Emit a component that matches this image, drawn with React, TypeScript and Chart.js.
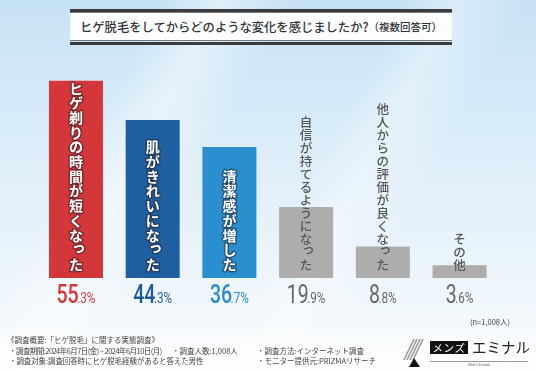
import React, { useEffect, useRef } from "react";
import { Chart, registerables } from "chart.js";

Chart.register(...registerables);

const categories = [
  "ヒゲ剃りの時間が短くなった",
  "肌がきれいになった",
  "清潔感が増した",
  "自信が持てるようになった",
  "他人からの評価が良くなった",
  "その他",
];
const values = [55.3, 44.3, 36.7, 19.9, 8.8, 3.6];
const barColors = ["#d4373a", "#1f5f9f", "#2a8ecf", "#adadad", "#adadad", "#adadad"];
const valueColors = ["#d2363a", "#1f5a97", "#2b8ccc", "#666666", "#666666", "#666666"];
const yMax = 60;

const titleMain = "ヒゲ脱毛をしてからどのような変化を感じましたか?";
const titleSub = "（複数回答可）";
const sampleNote = "(n=1,008人)";
const footerLines = [
  "《調査概要:「ヒゲ脱毛」に関する実態調査》",
];
const footerCols = [
  ["・調査期間:2024年6月7日(金) ~ 2024年6月10日(月)", "・調査人数:1,008人", "・調査方法:インターネット調査"],
  ["・調査対象:調査回答時にヒゲ脱毛経験があると答えた男性", "", "・モニター提供元:PRIZMAリサーチ"],
];

const SMALL_KANA = "っゃゅょぁぃぅぇぉッャュョァィゥェォ";

const labelPlugin = {
  id: "barLabels",
  afterDatasetsDraw(chart: any) {
    const ctx: CanvasRenderingContext2D = chart.ctx;
    const meta = chart.getDatasetMeta(0);
    meta.data.forEach((bar: any, i: number) => {
      const x = bar.x;
      const base = bar.base;
      const text = categories[i];
      const chars = Array.from(text);
      const colored = i < 3;
      const step = colored ? 14.7 : 13;
      const fs = colored ? 14 : 12.5;
      ctx.save();
      ctx.textAlign = "center";
      ctx.textBaseline = "middle";
      ctx.font = `${colored ? 700 : 500} ${fs}px "Noto Sans CJK JP", sans-serif`;
      const bottom = base - 6;
      chars.forEach((ch, k) => {
        let cy = bottom - step / 2 - (chars.length - 1 - k) * step;
        let cx = x;
        if (SMALL_KANA.includes(ch)) {
          cx += fs * 0.2;
          cy -= fs * 0.25;
        }
        if (colored) {
          ctx.lineJoin = "round";
          ctx.lineWidth = 3;
          ctx.strokeStyle = "rgba(40,30,40,0.5)";
          ctx.strokeText(ch, cx, cy);
          ctx.fillStyle = "#ffffff";
          ctx.fillText(ch, cx, cy);
        } else {
          ctx.fillStyle = "#555555";
          ctx.fillText(ch, cx, cy);
        }
      });
      ctx.restore();

      // value label
      const v = values[i];
      const s = v.toFixed(1);
      const dot = s.indexOf(".");
      const big = s.slice(0, dot);
      const small = s.slice(dot) + "%";
      const sx = 0.78;
      ctx.save();
      const bigFont = `${colored ? 500 : 400} 25px Roboto, sans-serif`;
      const smallFont = `400 15px Roboto, sans-serif`;
      ctx.font = bigFont;
      const wb = ctx.measureText(big).width * sx;
      ctx.font = smallFont;
      const ws = ctx.measureText(small).width * sx;
      const gap = -1.5;
      const total = wb + ws + gap;
      const startX = x - total / 2;
      const baseline = base + 25;
      ctx.fillStyle = valueColors[i];
      ctx.textBaseline = "alphabetic";
      ctx.textAlign = "left";
      ctx.translate(startX, baseline);
      ctx.scale(sx, 1);
      ctx.font = bigFont;
      ctx.fillText(big, 0, 0);
      ctx.font = smallFont;
      ctx.fillText(small, (wb + gap) / sx, 0);
      ctx.restore();
    });
  },
};

export default function App() {
  const ref = useRef<HTMLCanvasElement | null>(null);
  useEffect(() => {
    if (!ref.current) return;
    const chart = new Chart(ref.current, {
      type: "bar",
      data: {
        labels: categories,
        datasets: [
          {
            data: values,
            backgroundColor: barColors,
            borderWidth: 0,
            barPercentage: 0.704,
            categoryPercentage: 1,
          },
        ],
      },
      options: {
        animation: false,
        responsive: false,
        devicePixelRatio: 1,
        layout: { padding: { left: 37.6, right: 38.1, top: 64, bottom: 93 } },
        plugins: { legend: { display: false }, tooltip: { enabled: false } },
        scales: {
          x: { display: false },
          y: { display: false, min: 0, max: yMax },
        },
      },
      plugins: [labelPlugin],
    });
    return () => chart.destroy();
  }, []);

  const jp = '"Noto Sans CJK JP", sans-serif';
  return (
    <div
      style={{
        position: "fixed",
        left: 0,
        top: 0,
        width: 536,
        height: 371,
        overflow: "hidden",
        fontFamily: jp,
        background:
          "linear-gradient(118deg, rgba(255,255,255,0) 22%, rgba(255,255,255,0.45) 30%, rgba(255,255,255,0) 40%, rgba(255,255,255,0) 55%, rgba(255,255,255,0.35) 62%, rgba(255,255,255,0) 72%), linear-gradient(180deg, #c6e2f5 0%, #d9ecf9 35%, #e8f3fb 65%, #f2f8fc 85%, #f9fbfd 100%)",
      }}
    >
      {/* footer light band */}
      <div style={{ position: "absolute", left: 0, top: 328, width: 536, height: 43, background: "linear-gradient(180deg, rgba(255,255,255,0.2), rgba(255,255,255,0.85))" }} />
      {/* title box */}
      <div style={{ position: "absolute", left: 70, top: 9, width: 382, height: 2.5, background: "#3b3b3b" }} />
      <div style={{ position: "absolute", left: 70, top: 12, width: 382, height: 1, background: "#777" }} />
      <div style={{ position: "absolute", left: 70, top: 13, width: 382, height: 27, background: "rgba(255,255,255,0.92)" }} />
      <div style={{ position: "absolute", left: 70, top: 40, width: 382, height: 1, background: "#777" }} />
      <div style={{ position: "absolute", left: 70, top: 42, width: 382, height: 2.5, background: "#3b3b3b" }} />
      <div
        style={{
          position: "absolute",
          left: 70,
          top: 13,
          width: 382,
          height: 27,
          display: "flex",
          alignItems: "center",
          justifyContent: "center",
          color: "#333",
          whiteSpace: "nowrap",
        }}
      >
        <span style={{ fontSize: 12.3, fontWeight: 500 }}>{titleMain}</span>
        <span style={{ fontSize: 10.5, fontWeight: 500 }}>{titleSub}</span>
      </div>

      <canvas ref={ref} width={536} height={371} style={{ position: "absolute", left: 0, top: 0, width: 536, height: 371 }} />

      <div style={{ position: "absolute", left: 470, top: 316, fontSize: 7.5, color: "#444", whiteSpace: "nowrap" }}>{sampleNote}</div>

      <div style={{ position: "absolute", left: 7, top: 335, fontSize: 7.5, color: "#444", whiteSpace: "nowrap", lineHeight: "10px" }}>
        {footerLines[0]}
      </div>
      {footerCols.map((row, r) => (
        <div key={r} style={{ position: "absolute", left: 0, top: 346 + r * 10, fontSize: 7.5, color: "#444", whiteSpace: "nowrap", lineHeight: "10px", width: 400 }}>
          <span style={{ position: "absolute", left: 9, letterSpacing: r === 0 ? -0.55 : -0.1 }}>{row[0]}</span>
          <span style={{ position: "absolute", left: 172 }}>{row[1]}</span>
          <span style={{ position: "absolute", left: 257 }}>{row[2]}</span>
        </div>
      ))}

      {/* logo */}
      <svg style={{ position: "absolute", left: 400, top: 336 }} width={30} height={32}>
        <line x1={14} y1={3} x2={4} y2={24} stroke="#999" strokeWidth={1.6} />
        <line x1={17} y1={3} x2={7} y2={24} stroke="#999" strokeWidth={1.6} />
        <line x1={20} y1={3} x2={10} y2={24} stroke="#999" strokeWidth={1.6} />
        <line x1={23} y1={3} x2={13} y2={24} stroke="#999" strokeWidth={1.6} />
        <polygon points="9,31 14,22 20,31" fill="#111" />
      </svg>
      <div style={{ position: "absolute", left: 430, top: 341, width: 38, height: 13, background: "#111", color: "#fff", fontSize: 10.5, lineHeight: "13px", textAlign: "center", letterSpacing: 0.5 }}>メンズ</div>
      <div style={{ position: "absolute", left: 472, top: 337, fontSize: 14.5, color: "#222", fontWeight: 400, whiteSpace: "nowrap", lineHeight: "20px" }}>エミナル</div>
      <div style={{ position: "absolute", left: 430, top: 361, width: 98, height: 1, background: "#999" }} />
      <div style={{ position: "absolute", left: 430, top: 362, width: 98, fontSize: 3.5, color: "#555", textAlign: "center", lineHeight: "5px" }}>Men's Eminal</div>
    </div>
  );
}
